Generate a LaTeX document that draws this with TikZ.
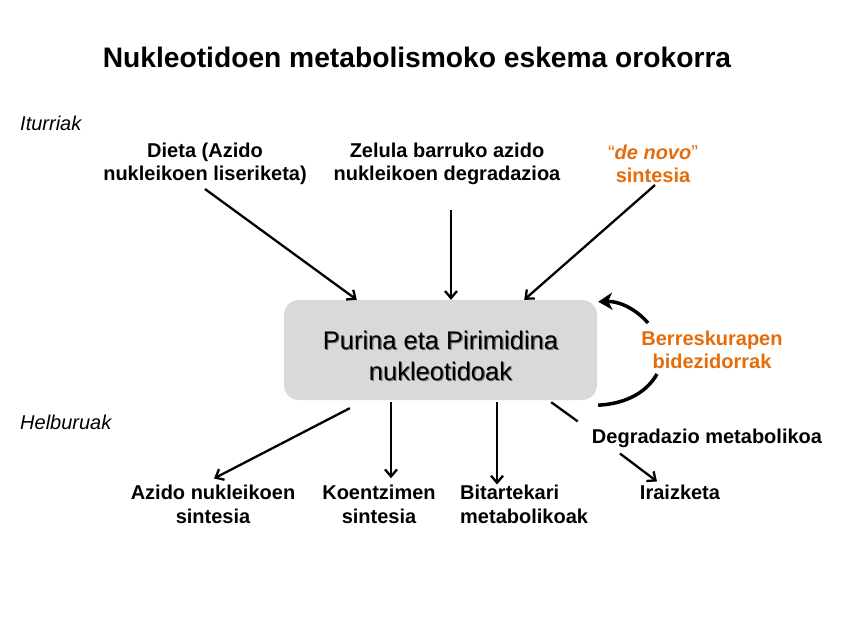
\documentclass[tikz,border=0pt]{standalone}
\usepackage{fontspec}
\setmainfont{Liberation Sans}
\usetikzlibrary{arrows.meta,calc}
\definecolor{orangetxt}{HTML}{E46C0A}
\definecolor{boxgray}{HTML}{D9D9D9}
\tikzset{
  lbl/.style={font=\bfseries\fontsize{20}{23}\selectfont, align=center, inner sep=0pt},
  lbltwo/.style={font=\bfseries\fontsize{20}{24}\selectfont, align=center, inner sep=0pt},
  side/.style={font=\itshape\fontsize{20}{23}\selectfont, anchor=west, inner sep=0pt},
  boxfont/.style={font=\fontsize{25.5}{31}\selectfont, align=center, inner sep=0pt},
  arr/.style={line width=2.3pt, -{Straight Barb[length=7pt,width=12pt,line width=2.3pt]}},
  plain/.style={line width=2.3pt},
  loop/.style={line width=3.5pt},
  looparr/.style={line width=3.5pt, -{Stealth[length=14pt,width=17pt,inset=4pt]}}
}
\begin{document}
\begin{tikzpicture}[x=1pt,y=-1pt]
\useasboundingbox (0,0) rectangle (848,636);
\node[font=\bfseries\fontsize{28.2}{32}\selectfont, inner sep=0pt] (title) at (417,57) {Nukleotidoen metabolismoko eskema orokorra};
\node[side] (iturr) at (20,123) {Iturriak};
\node[side] (helb) at (20,422) {Helburuak};

\node[lbl] (dieta) at (205,164) {Dieta (Azido\\nukleikoen liseriketa)};
\node[lbl] (zelula) at (447,164) {Zelula barruko azido\\nukleikoen degradazioa};
\node[lbl, text=orangetxt] (denovo) at (653,164) {{\mdseries``}\textit{de novo}{\mdseries''}\\sintesia};

\node[fill=boxgray, rounded corners=15pt, minimum width=313pt, minimum height=100pt, inner sep=0pt] (box) at (440.5,350) {};
\node[boxfont, text=black!55] (boxshadow) at (441.6,357.1) {Purina eta Pirimidina\\nukleotidoak};
\node[boxfont] (boxtxt) at (440.5,356) {Purina eta Pirimidina\\nukleotidoak};

\node[lbl, text=orangetxt] (berr) at (712,350) {Berreskurapen\\bidezidorrak};
\node[lbl] (degr) at (707,438) {Degradazio metabolikoa};

\node[lbltwo] (azido) at (213,504) {Azido nukleikoen\\sintesia};
\node[lbltwo] (koentz) at (379,504) {Koentzimen\\sintesia};
\node[lbltwo, align=left, anchor=west] (bitart) at (460,504) {Bitartekari\\metabolikoak};
\node[lbl] (iraiz) at (680,492) {Iraizketa};

% inputs
\draw[arr] ($(dieta.south)+(0,4)$) -- ($(box.north west)+(73,0)$);
\draw[arr] ($(zelula.south)+(4,25)$) -- ($(box.north)+(10.5,0)$);
\draw[arr] ($(denovo.south)+(2,2)$) -- ($(box.north east)+(-73,0)$);

% outputs
\draw[arr] ($(box.south west)+(66,8)$) -- ($(azido.north)+(1,-6)$);
\draw[arr] ($(box.south)+(-49.5,2)$) -- ($(box.south)+(-49.5,78)$);
\draw[arr] ($(box.south)+(56.5,2)$) -- ($(bitart.north west)+(37,0)$);
\draw[plain] ($(box.south east)+(-46,2)$) -- ($(degr.north west)+(-14,-7)$);
\draw[arr] ($(degr.south)+(-87,6)$) -- ($(iraiz.north)+(-23,-3)$);

% salvage loop
\draw[loop] ($(box.south east)+(1,5)$) .. controls (622,404) and (645,395) .. ($(berr.south)+(-55,5)$);
\draw[looparr] ($(berr.north)+(-64,-8)$) .. controls (635,308) and (618,301) .. ($(box.north east)+(1,2)$);
\end{tikzpicture}
\end{document}
